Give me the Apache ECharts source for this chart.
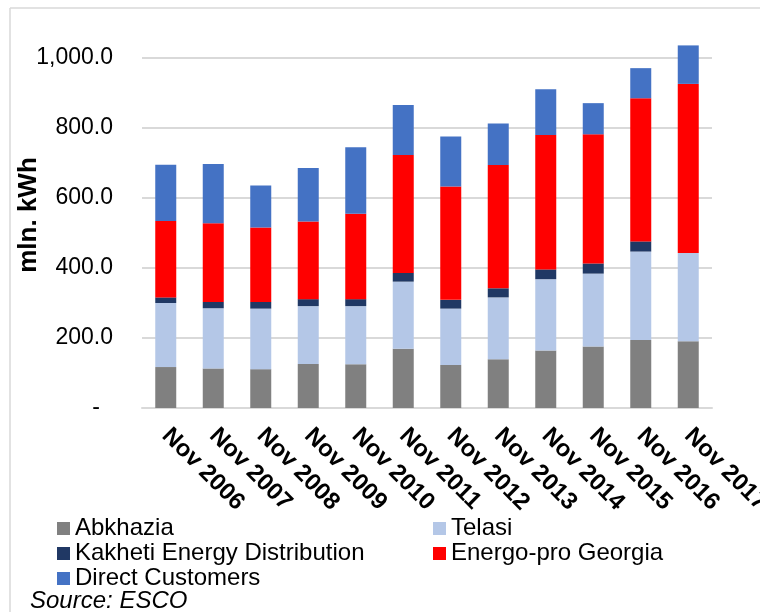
<!DOCTYPE html>
<html>
<head>
<meta charset="utf-8">
<script src="https://cdn.jsdelivr.net/npm/echarts@6/dist/echarts.min.js"></script>
<style>
  html, body { margin: 0; padding: 0; background: #ffffff; }
  #chart { width: 760px; height: 612px; }
</style>
</head>
<body>
<div id="chart"></div>
<script>
// Electricity consumption by distributor, mln. kWh (November of each year)
const categories = ['Nov 2006', 'Nov 2007', 'Nov 2008', 'Nov 2009', 'Nov 2010', 'Nov 2011',
                    'Nov 2012', 'Nov 2013', 'Nov 2014', 'Nov 2015', 'Nov 2016', 'Nov 2017'];
const abkhazia        = [117, 113, 111, 126, 125, 169, 123, 139, 164, 176, 194, 191];
const telasi          = [183, 172, 173, 165, 166, 192, 161, 177, 204, 208, 253, 252];
const kakheti         = [16, 18, 19, 20, 20, 25, 25, 26, 28, 29, 29, 0];
const energoPro       = [218, 225, 213, 222, 244, 337, 324, 352, 384, 369, 409, 483];
const directCustomers = [161, 169, 120, 153, 190, 143, 143, 119, 131, 89, 86, 110];
const yTicks = [0, 200, 400, 600, 800, 1000];

const FONT = '"Liberation Sans", Arial, sans-serif';

const seriesDefs = [
  { name: 'Abkhazia', data: abkhazia, color: '#808080' },
  { name: 'Telasi', data: telasi, color: '#b4c7e7' },
  { name: 'Kakheti Energy Distribution', data: kakheti, color: '#203864' },
  { name: 'Energo-pro Georgia', data: energoPro, color: '#ff0000' },
  { name: 'Direct Customers', data: directCustomers, color: '#4472c4' }
];

function fmtTick(v) {
  if (v === 0) return '{dash|-}';
  return v.toLocaleString('en-US', { minimumFractionDigits: 1, maximumFractionDigits: 1 });
}

const legendText = { fontFamily: FONT, fontSize: 24, color: '#000', lineHeight: 25 };
const legendBase = {
  orient: 'vertical', top: 516, itemGap: 0, padding: 0,
  itemWidth: 13, itemHeight: 13, icon: 'rect', itemStyle: { borderWidth: 0 },
  textStyle: legendText
};

const chart = echarts.init(document.getElementById('chart'), null, { renderer: 'canvas' });
chart.setOption({
  backgroundColor: '#ffffff',
  animation: false,
  grid: { left: 142, right: 48, top: 58, bottom: 204, containLabel: false, outerBoundsMode: 'none' },
  xAxis: {
    type: 'category',
    data: categories,
    axisLine: { lineStyle: { color: '#d9d9d9', width: 2 } },
    axisTick: { show: false },
    axisLabel: {
      interval: 0, rotate: -45, margin: 24,
      fontFamily: FONT, fontSize: 24, fontWeight: 'bold', color: '#000'
    }
  },
  yAxis: {
    type: 'value',
    min: yTicks[0], max: yTicks[yTicks.length - 1], interval: 200,
    axisLine: { show: false },
    axisTick: { show: false },
    splitLine: { lineStyle: { color: '#d9d9d9', width: 2 } },
    axisLabel: {
      margin: 29, fontFamily: FONT, fontSize: 23, color: '#000',
      formatter: fmtTick,
      rich: { dash: { fontFamily: FONT, fontSize: 23, color: '#000', padding: [0, 13, 0, 0] } }
    }
  },
  legend: [
    Object.assign({ left: 57, data: ['Abkhazia', 'Kakheti Energy Distribution', 'Direct Customers'] }, legendBase),
    Object.assign({ left: 433, data: ['Telasi', 'Energo-pro Georgia'] }, legendBase)
  ],
  graphic: [
    // chart frame (left and top edges)
    { type: 'line', shape: { x1: 10, y1: 8, x2: 10, y2: 612 }, style: { stroke: '#d9d9d9', lineWidth: 1.5 } },
    { type: 'line', shape: { x1: 10, y1: 8, x2: 760, y2: 8 }, style: { stroke: '#d9d9d9', lineWidth: 1.5 } },
    {
      type: 'text', x: 29, y: 215, rotation: Math.PI / 2,
      style: { text: 'mln. kWh', font: 'bold 26px ' + FONT, fill: '#000', align: 'center', verticalAlign: 'middle' }
    },
    {
      type: 'text', left: 30, top: 589,
      style: { text: 'Source: ESCO', font: 'italic 24px ' + FONT, fill: '#000' }
    }
  ],
  series: seriesDefs.map(s => ({
    name: s.name,
    type: 'bar',
    stack: 'total',
    barWidth: 21,
    clip: false,
    data: s.data,
    itemStyle: { color: s.color }
  }))
});
</script>
</body>
</html>
